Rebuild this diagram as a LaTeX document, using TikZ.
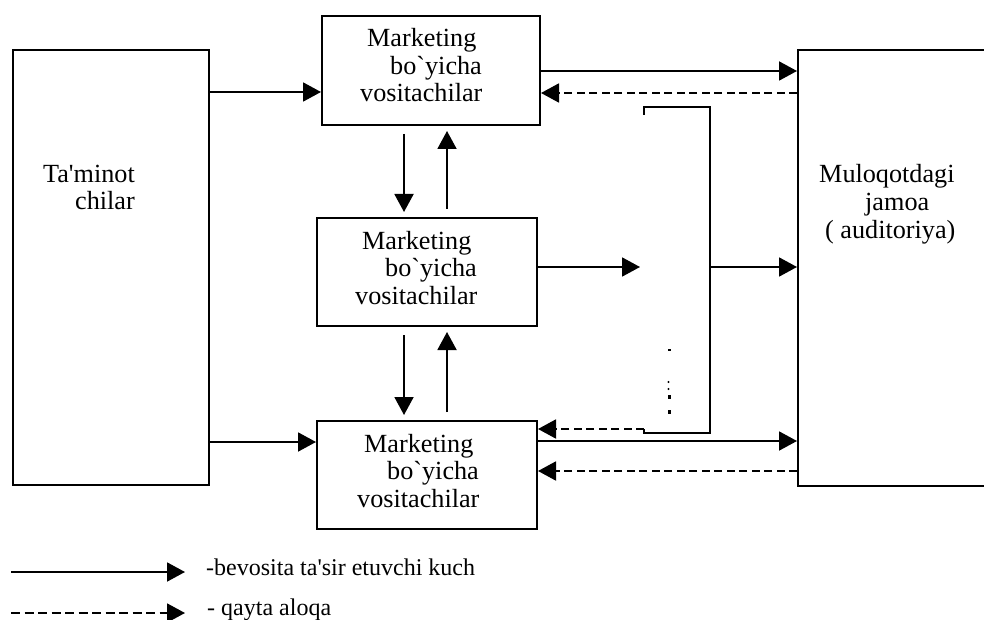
\documentclass[tikz,border=0pt]{standalone}
\usepackage{fontspec}
\newfontfamily\tnr{Liberation Serif}
\usetikzlibrary{arrows.meta}
\begin{document}
\begin{tikzpicture}[x=1pt,y=-1pt,
  box/.style={draw, line width=2pt, rectangle, inner sep=0pt, anchor=north west},
  boxtext/.style={font=\tnr\fontsize{26.2}{27.5}\selectfont, inner sep=0pt, align=left, anchor=base west},
  legtext/.style={font=\tnr\fontsize{24}{28}\selectfont, inner sep=0pt, anchor=base west},
  flow/.style={line width=1.9pt, -{Triangle[length=18pt,width=19pt]}},
  back/.style={flow, dash pattern=on 8pt off 4.5pt},
  vlink/.style={flow, shorten <=8pt, shorten >=5pt},
  edge/.style={line width=1.9pt}
]
\clip (0,0) rectangle (984,620);

% main blocks
\node[box, minimum width=196pt, minimum height=435pt] (sup) at (12,49) {};
\node[box, minimum width=218pt, minimum height=109pt] (m1) at (321,15) {};
\node[box, minimum width=220pt, minimum height=108pt] (m2) at (316,217) {};
\node[box, minimum width=220pt, minimum height=108pt] (m3) at (316,420) {};
\node[box, minimum width=192pt, minimum height=436pt] (aud) at (797,49) {};

% block labels (anchored at the baseline of the last line)
\node[boxtext, align=right, anchor=base east] (supt) at (135,210) {Ta'minot\\chilar};
\node[boxtext] (m1t) at (360,102) {\hspace*{7pt}Marketing\\\hspace*{30pt}bo`yicha\\vositachilar};
\node[boxtext] (m2t) at (355,304) {\hspace*{7pt}Marketing\\\hspace*{30pt}bo`yicha\\vositachilar};
\node[boxtext] (m3t) at (357,507) {\hspace*{7pt}Marketing\\\hspace*{30pt}bo`yicha\\vositachilar};
\node[boxtext] (audt) at (819,238) {Muloqotdagi\\\hspace*{46pt}jamoa\\\hspace*{6pt}( auditoriya)};

% bracket collecting the middle channel
\coordinate (brNW) at (644,107);
\coordinate (brSE) at (710,433);
\coordinate (brin) at (640,267);
\coordinate (brout) at (710,267);
\coordinate (brfb) at (644,429);
\draw[edge] (644,115) -- (brNW) -- (brNW -| brSE) -- (brSE) -- (brSE -| brNW) -- (brfb);
\fill (667.5,348.5) rectangle (671,351);
\fill (668.5,382) circle (1.2pt);
\fill (668.5,389) circle (1.2pt);
\fill (668,395) rectangle (671,399);
\fill (668,410) rectangle (670.5,414);

% suppliers to intermediaries
\draw[flow] (sup.east |- 0,92) -- (m1.west |- 0,92);
\draw[flow] (sup.east |- 0,442) -- (m3.west |- 0,442);

% between intermediaries
\draw[vlink] (m1.south -| 404,0) -- (m2.north -| 404,0);
\draw[vlink] (m2.north -| 447,0) -- (m1.south -| 447,0);
\draw[vlink] (m2.south -| 404,0) -- (m3.north -| 404,0);
\draw[vlink] (m3.north -| 447,0) -- (m2.south -| 447,0);

% intermediaries to the audience and feedback
\draw[flow] (m1.east |- 0,71) -- (aud.west |- 0,71);
\draw[back] (aud.west |- 0,93) -- (m1.east |- 0,93);
\draw[flow] (m2.east |- brin) -- (brin);
\draw[flow] (brout) -- (aud.west |- brout);
\draw[back] (brfb) -- (m3.east |- brfb);
\draw[flow] (m3.east |- 0,441) -- (aud.west |- 0,441);
\draw[back] (aud.west |- 0,471) -- (m3.east |- 0,471);

% legend
\coordinate (l1a) at (11,572);
\coordinate (l1b) at (185,572);
\draw[flow] (l1a) -- (l1b);
\node[legtext] (l1t) at (206,575) {-bevosita ta'sir etuvchi kuch};
\coordinate (l2a) at (11,613);
\coordinate (l2b) at (185,613);
\draw[flow, dash pattern=on 9pt off 4.5pt] (l2a) -- (l2b);
\node[legtext] (l2t) at (207,615) {- qayta aloqa};
\end{tikzpicture}
\end{document}
